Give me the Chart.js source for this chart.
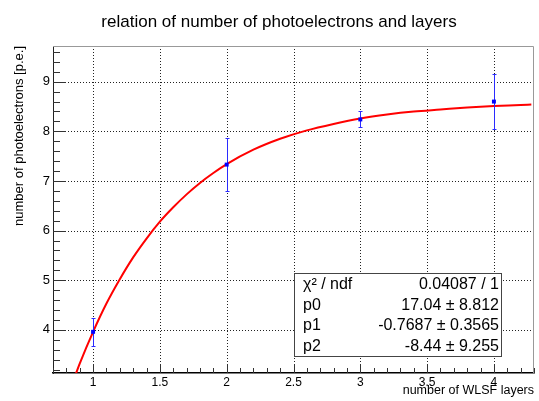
<!DOCTYPE html>
<html>
<head>
<meta charset="utf-8">
<script src="https://cdn.jsdelivr.net/npm/chart.js@4.4.1/dist/chart.umd.min.js"></script>
<style>
    html, body { margin: 0; padding: 0; background: #fff; }
    #wrap { width: 539px; height: 401px; }
</style>
</head>
<body>
<div id="wrap"><canvas id="fit-chart"></canvas></div>
<script>
// Measured points
const layers = [1, 2, 3, 4];
const photoelectrons = [3.96, 7.33, 8.24, 8.60];
const peErrors = [0.28, 0.54, 0.16, 0.56];

// Fit curve
const fitX = [0.85, 0.9, 1.0, 1.1, 1.2, 1.3, 1.4, 1.5, 1.6, 1.7, 1.8, 1.9, 2.0,
              2.2, 2.4, 2.6, 2.8, 3.0, 3.2, 3.4, 3.6, 3.8, 4.0, 4.2, 4.28];
const fitY = [2.96, 3.32, 3.96, 4.53, 5.02, 5.46, 5.84, 6.18, 6.47, 6.73, 6.96, 7.16, 7.34,
              7.63, 7.85, 8.02, 8.15, 8.26, 8.34, 8.40, 8.44, 8.48, 8.51, 8.53, 8.54];

// Axes
const xTicks = [1, 1.5, 2, 2.5, 3, 3.5, 4];
const yTicks = [4, 5, 6, 7, 8, 9];

// Fit results box
const statNames = ['χ² / ndf', 'p0', 'p1', 'p2'];
const statValues = ['0.04087 / 1', '17.04 ± 8.812', '-0.7687 ± 0.3565', '-8.44 ± 9.255'];

const FONT = '"Liberation Sans", Arial, Helvetica, sans-serif';

// Draws ROOT-style extras: dotted grid, inner ticks, frame, error bars, stats box, title
const rootStyle = {
    id: 'rootStyle',
    beforeDatasetsDraw(chart) {
        const ctx = chart.ctx;
        const area = chart.chartArea;
        const xs = chart.scales.x, ys = chart.scales.y;
        ctx.save();
        ctx.strokeStyle = '#222';
        ctx.lineWidth = 1;
        ctx.setLineDash([1, 2]);
        ctx.beginPath();
        xTicks.forEach(v => {
            const px = Math.round(xs.getPixelForValue(v)) + 0.5;
            ctx.moveTo(px, area.top);
            ctx.lineTo(px, area.bottom);
        });
        yTicks.forEach(v => {
            const py = Math.round(ys.getPixelForValue(v)) + 0.5;
            ctx.moveTo(area.left, py);
            ctx.lineTo(area.right, py);
        });
        ctx.stroke();
        ctx.restore();
    },
    afterDatasetDraw(chart, args) {
        if (args.index !== 0) return;
        const ctx = chart.ctx;
        const xs = chart.scales.x, ys = chart.scales.y;
        ctx.save();
        ctx.strokeStyle = '#2b2bff';
        ctx.lineWidth = 1;
        layers.forEach((x, i) => {
            const px = Math.round(xs.getPixelForValue(x)) + 0.5;
            const top = Math.round(ys.getPixelForValue(photoelectrons[i] + peErrors[i])) + 0.5;
            const bot = Math.round(ys.getPixelForValue(photoelectrons[i] - peErrors[i])) + 0.5;
            ctx.beginPath();
            ctx.moveTo(px, top); ctx.lineTo(px, bot);
            ctx.moveTo(px - 2, top); ctx.lineTo(px + 2, top);
            ctx.moveTo(px - 2, bot); ctx.lineTo(px + 2, bot);
            ctx.stroke();
        });
        ctx.restore();
    },
    afterDraw(chart) {
        const ctx = chart.ctx;
        const area = chart.chartArea;
        const xs = chart.scales.x, ys = chart.scales.y;
        ctx.save();

        // frame top and right
        ctx.strokeStyle = '#999';
        ctx.lineWidth = 1;
        ctx.beginPath();
        ctx.moveTo(area.left, area.top + 0.5);
        ctx.lineTo(area.right - 0.5, area.top + 0.5);
        ctx.lineTo(area.right - 0.5, area.bottom);
        ctx.stroke();

        // ticks inside the frame
        ctx.strokeStyle = '#333';
        ctx.beginPath();
        for (let v = 0.7; v <= 4.3001; v += 0.1) {
            const px = Math.round(xs.getPixelForValue(v)) + 0.5;
            const major = Math.abs(v * 2 - Math.round(v * 2)) < 1e-6;
            ctx.moveTo(px, area.bottom);
            ctx.lineTo(px, area.bottom - (major ? 9 : 5));
        }
        for (let v = 3.2; v <= 9.7001; v += 0.2) {
            const py = Math.round(ys.getPixelForValue(v)) + 0.5;
            const major = Math.abs(v - Math.round(v)) < 1e-6;
            ctx.moveTo(area.left, py);
            ctx.lineTo(area.left + (major ? 13 : 7), py);
        }
        ctx.stroke();

        // stats box
        const bx = 294, by = 273, bw = 207, bh = 83;
        ctx.fillStyle = '#fff';
        ctx.fillRect(bx, by, bw, bh);
        ctx.strokeStyle = '#444';
        ctx.strokeRect(bx + 0.5, by + 0.5, bw, bh);
        ctx.fillStyle = '#000';
        ctx.font = '16px ' + FONT;
        ctx.textBaseline = 'middle';
        const rowH = bh / statNames.length;
        statNames.forEach((name, i) => {
            const cy = by + rowH * (i + 0.5) + 1;
            ctx.textAlign = 'left';
            ctx.fillText(name, bx + 9, cy);
            ctx.textAlign = 'right';
            ctx.fillText(statValues[i], bx + bw - 2, cy);
        });

        // title
        ctx.font = '17px ' + FONT;
        ctx.textAlign = 'center';
        ctx.textBaseline = 'alphabetic';
        ctx.fillText('relation of number of photoelectrons and layers', 279, 27);
        ctx.restore();
    }
};

new Chart(document.getElementById('fit-chart'), {
    type: 'scatter',
    data: {
        datasets: [{
            label: 'fit',
            data: fitX.map((x, i) => ({x, y: fitY[i]})),
            showLine: true,
            borderColor: '#ff0000',
            borderWidth: 2,
            pointRadius: 0,
            cubicInterpolationMode: 'monotone',
            order: 2
        }, {
            label: 'data',
            data: layers.map((x, i) => ({x, y: photoelectrons[i]})),
            pointStyle: 'rect',
            pointRadius: 2.8,
            backgroundColor: '#0000ff',
            borderColor: '#0000ff',
            borderWidth: 0,
            order: 1
        }]
    },
    options: {
        responsive: true,
        maintainAspectRatio: false,
        animation: false,
        layout: { padding: { top: 46, right: 5, left: 0, bottom: 0 } },
        plugins: {
            legend: { display: false },
            tooltip: { enabled: false },
            title: { display: false }
        },
        scales: {
            x: {
                type: 'linear',
                min: 0.7,
                max: 4.3,
                afterFit: s => { s.height = 28; },
                afterBuildTicks: s => { s.ticks = xTicks.map(v => ({value: v})); },
                ticks: {
                    padding: 2,
                    color: '#000',
                    font: { size: 12, family: FONT },
                    maxRotation: 0,
                    autoSkip: false,
                    callback: v => String(v)
                },
                grid: { display: true, drawOnChartArea: false, drawTicks: false },
                border: { color: '#000', width: 1.5 },
                title: {
                    display: true,
                    text: 'number of WLSF layers',
                    align: 'end',
                    color: '#000',
                    font: { size: 12.5, family: FONT },
                    padding: { top: 0, bottom: 3 }
                }
            },
            y: {
                type: 'linear',
                min: 3.13,
                max: 9.72,
                afterFit: s => { s.width = 53; },
                afterBuildTicks: s => { s.ticks = yTicks.map(v => ({value: v})); },
                ticks: {
                    padding: 3,
                    color: '#000',
                    font: { size: 13, family: FONT },
                    callback: v => String(v)
                },
                grid: { display: true, drawOnChartArea: false, drawTicks: false },
                border: { color: '#222', width: 1 },
                title: {
                    display: true,
                    text: 'number of photoelectrons [p.e.]',
                    align: 'end',
                    color: '#000',
                    font: { size: 13, family: FONT },
                    padding: { top: 12, bottom: 0 }
                }
            }
        }
    },
    plugins: [rootStyle]
});
</script>
</body>
</html>
